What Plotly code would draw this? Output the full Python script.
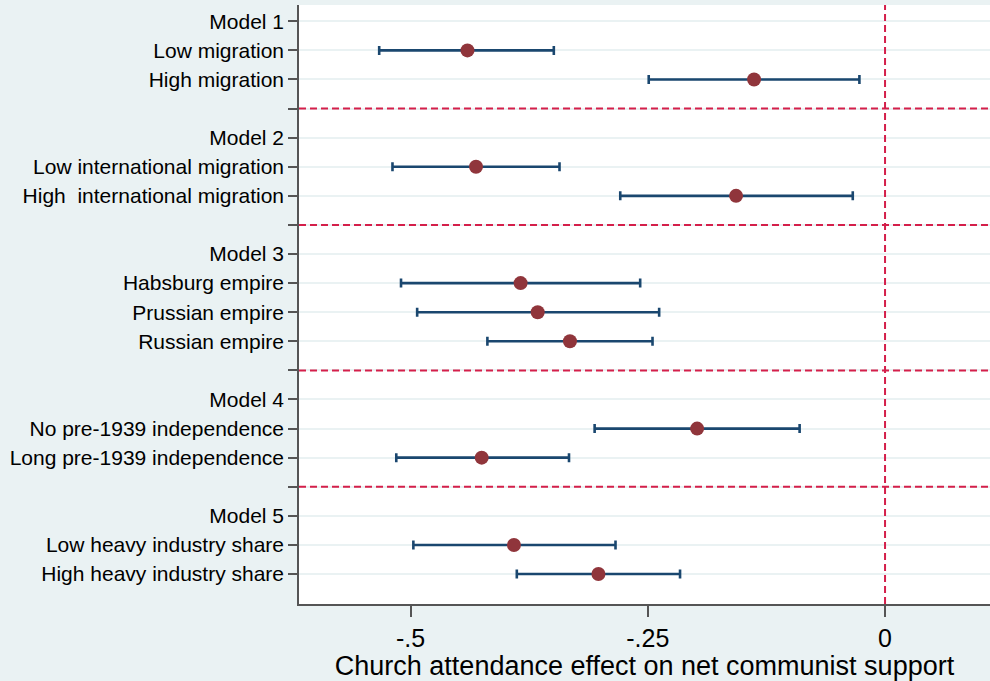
import plotly.graph_objects as go

# Row layout (top to bottom): model headers, subgroup estimates, blank separator rows
row_labels = [
    "Model 1", "Low migration", "High migration", "",
    "Model 2", "Low international migration", "High  international migration", "",
    "Model 3", "Habsburg empire", "Prussian empire", "Russian empire", "",
    "Model 4", "No pre-1939 independence", "Long pre-1939 independence", "",
    "Model 5", "Low heavy industry share", "High heavy industry share",
]
separator_rows = [3, 7, 12, 16]

# Subgroup estimates with 95% confidence bounds
est_labels = [
    "Low migration", "High migration",
    "Low international migration", "High  international migration",
    "Habsburg empire", "Prussian empire", "Russian empire",
    "No pre-1939 independence", "Long pre-1939 independence",
    "Low heavy industry share", "High heavy industry share",
]
estimate = [-0.440, -0.138, -0.431, -0.157, -0.384, -0.366, -0.332,
            -0.198, -0.425, -0.391, -0.302]
lower = [-0.533, -0.249, -0.519, -0.279, -0.510, -0.493, -0.419,
         -0.306, -0.515, -0.497, -0.388]
upper = [-0.349, -0.027, -0.343, -0.034, -0.258, -0.238, -0.245,
         -0.090, -0.333, -0.284, -0.216]

x_ticks = [-0.5, -0.25, 0]
x_ticktext = ["-.5", "-.25", "0"]

BG = "#EAF2F3"
NAVY = "#1A476F"
MAROON = "#90353B"
RED = "#D41F4A"
AXIS = "#555555"
FONT = "Liberation Sans, Arial, sans-serif"

ypos = [row_labels.index(lbl) for lbl in est_labels]

fig = go.Figure()
fig.add_trace(go.Scatter(
    x=estimate, y=ypos, mode="markers",
    marker=dict(size=14, color=MAROON),
    error_x=dict(type="data", symmetric=False,
                 array=[u - e for u, e in zip(upper, estimate)],
                 arrayminus=[e - l for e, l in zip(estimate, lower)],
                 color=NAVY, thickness=2.6, width=4.5),
    showlegend=False, hoverinfo="skip",
))

shapes = []
for r in separator_rows:
    shapes.append(dict(type="line", xref="paper", x0=0, x1=1, yref="y", y0=r, y1=r,
                       line=dict(color=RED, width=2, dash="7px,4px")))
shapes.append(dict(type="line", xref="x", x0=0, x1=0, yref="paper", y0=0, y1=1,
                   line=dict(color=RED, width=2, dash="7px,4px")))

fig.update_layout(
    width=990, height=681,
    margin=dict(l=299, r=0, t=5, b=77),
    paper_bgcolor=BG, plot_bgcolor="white",
    font=dict(family=FONT, color="black"),
    shapes=shapes,
    xaxis=dict(
        range=[-0.6175, 0.1106], tickvals=x_ticks, ticktext=x_ticktext,
        showgrid=False, zeroline=False, showline=True, linecolor=AXIS, linewidth=1.5,
        ticks="outside", ticklen=11, tickwidth=1.5, tickcolor=AXIS,
        tickfont=dict(size=25, family=FONT),
        title=dict(text="Church attendance effect on net communist support",
                   font=dict(size=27, family=FONT), standoff=0),
    ),
    yaxis=dict(
        range=[20.03, -0.56], tickvals=list(range(len(row_labels))), ticktext=row_labels,
        showgrid=True, gridcolor=BG, gridwidth=1.5, zeroline=False,
        showline=True, linecolor=AXIS, linewidth=1.5,
        ticks="outside", ticklen=9, tickwidth=1.5, tickcolor=AXIS,
        tickfont=dict(size=21, family=FONT),
    ),
)

fig.write_html("out.html")
